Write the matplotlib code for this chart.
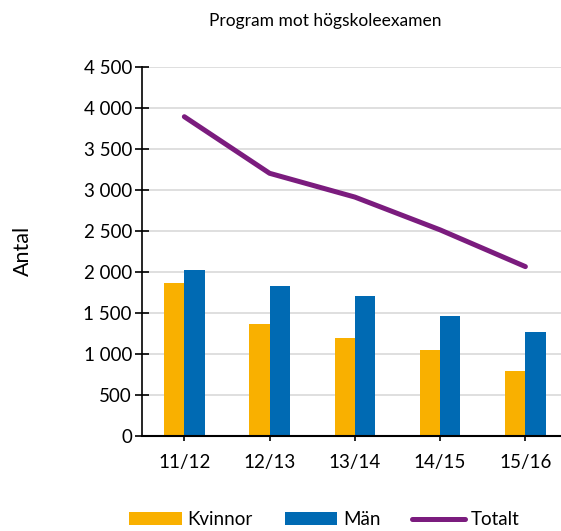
import numpy as np
import matplotlib.pyplot as plt

# data
years = ["11/12", "12/13", "13/14", "14/15", "15/16"]
kvinnor = [1860, 1365, 1195, 1045, 790]
man = [2020, 1825, 1707, 1457, 1266]
totalt = [3890, 3200, 2910, 2510, 2062]

plt.rcParams['font.family'] = ['Lato', 'DejaVu Sans']

fig = plt.figure(figsize=(5.61, 5.31), dpi=100)
# right edge of the plot area runs past the picture, like the reference
ax = fig.add_axes([0.2526, 0.1795, 0.7599, 0.6949])

x = np.arange(len(years))
w = 0.238
b1 = ax.bar(x - w / 2, kvinnor, w, color="#F9B000", label="Kvinnor", zorder=2)
b2 = ax.bar(x + w / 2, man, w, color="#006AB3", label="Män", zorder=2)
l1, = ax.plot(x, totalt, color="#7B1C7E", lw=3.6, solid_capstyle="round", label="Totalt", zorder=3)

ax.set_xlim(-0.5, 4.5)
ax.set_ylim(0, 4500)
ax.set_yticks(range(0, 4501, 500))
ax.set_yticklabels([f"{v:,}".replace(",", " ") for v in range(0, 4501, 500)])
ax.set_xticks(x)
ax.set_xticklabels(years)

ax.yaxis.grid(True, color="#d9d9d9", lw=1.2, zorder=0)
ax.set_axisbelow(True)
for s in ["top", "right"]:
    ax.spines[s].set_visible(False)
ax.spines["left"].set_linewidth(1.2)
ax.spines["bottom"].set_linewidth(1.5)
ax.tick_params(axis="y", direction="inout", length=10, width=1.2, labelsize=13.5, pad=2)
ax.tick_params(axis="x", direction="inout", length=7, width=1.2, labelsize=13.5, pad=10)

ax.set_ylabel("Antal", fontsize=15.5)
ax.yaxis.set_label_coords(-0.255, 0.5)
fig.text(0.58, 0.961, "Program mot högskoleexamen", ha="center", va="center", fontsize=12.5)

fig.legend([b1, b2, l1], ["Kvinnor", "Män", "Totalt"], loc="center",
           bbox_to_anchor=(0.578, 0.021), ncol=3, frameon=False,
           fontsize=13.5, handlelength=2.8, handletextpad=0.3, columnspacing=1.7)

fig.savefig("out.png", dpi=100)
